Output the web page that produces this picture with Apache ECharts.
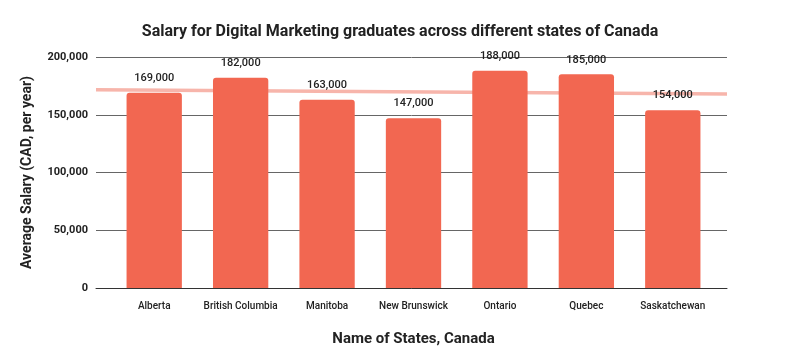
<!DOCTYPE html>
<html><head><meta charset="utf-8">
<script src="https://cdn.jsdelivr.net/npm/echarts@6/dist/echarts.min.js"></script>
<style>html,body{margin:0;padding:0;background:#fff}#c{width:800px;height:359px}</style>
</head><body><div id="c"></div>
<script>
const categories = ['Alberta','British Columbia','Manitoba','New Brunswick','Ontario','Quebec','Saskatchewan'];
const salaries = [169000,182000,163000,147000,188000,185000,154000];
const yTicks = [0,50000,100000,150000,200000];

// linear trendline (least squares) from the data
const n = salaries.length;
const mx = (n-1)/2;
const my = salaries.reduce((a,b)=>a+b,0)/n;
let sxy=0,sxx=0;
salaries.forEach((v,i)=>{sxy+=(i-mx)*(v-my);sxx+=(i-mx)*(i-mx);});
const slope = sxy/sxx;
const trend = x => my + slope*(x-mx);
const xMin = -0.677, xMax = 6.626;

const chart = echarts.init(document.getElementById('c'));
const fmt = v => v.toLocaleString('en-US');
chart.setOption({
  animation:false,
  textStyle:{fontFamily:'Roboto'},
  title:{text:'Salary for Digital Marketing graduates across different states of Canada',left:'center',top:19,
    textStyle:{fontFamily:'Roboto',fontWeight:'bold',fontSize:16,color:'#222'}},
  grid:[
    {left:96,right:73,top:57,bottom:71},
    {left:111,right:84,top:57,bottom:71}
  ],
  xAxis:[
    {type:'value',gridIndex:0,min:xMin,max:xMax,show:true,axisLabel:{show:false},axisTick:{show:false},splitLine:{show:false},
      axisLine:{show:true,onZero:false,lineStyle:{color:'#333',width:1}}},
    {type:'category',gridIndex:1,data:categories,axisLine:{show:false},axisTick:{show:false},
      axisLabel:{color:'#222',fontSize:10,fontWeight:500,margin:13,interval:0},
      name:'Name of States, Canada',nameLocation:'middle',nameGap:44,
      nameTextStyle:{fontSize:15,fontWeight:'bold',color:'#222'}}
  ],
  yAxis:[
    {type:'value',gridIndex:0,min:0,max:200000,interval:50000,
      axisLabel:{formatter:v=>fmt(v),color:'#222',fontSize:11,fontWeight:'bold',margin:8},
      axisLine:{show:false},axisTick:{show:false},
      splitLine:{lineStyle:{color:'#666',width:1}},
      name:'Average Salary (CAD, per year)',nameLocation:'middle',nameGap:62,
      nameTextStyle:{fontSize:14,fontWeight:'bold',color:'#222'}},
    {type:'value',gridIndex:1,min:0,max:200000,interval:50000,show:false,splitLine:{show:false}}
  ],
  series:[
    {type:'line',xAxisIndex:0,yAxisIndex:0,data:[[xMin,trend(xMin)],[xMax,trend(xMax)]],
      symbol:'none',lineStyle:{color:'#F7B5AB',width:3.5},z:1,silent:true},
    {type:'bar',xAxisIndex:1,yAxisIndex:1,data:salaries,barWidth:'64%',
      itemStyle:{color:'#F26751',borderRadius:[3,3,0,0]},z:3,
      label:{show:true,position:'top',distance:9,formatter:p=>fmt(p.value),color:'#222',fontSize:11,fontWeight:500}}
  ]
});
</script></body></html>
